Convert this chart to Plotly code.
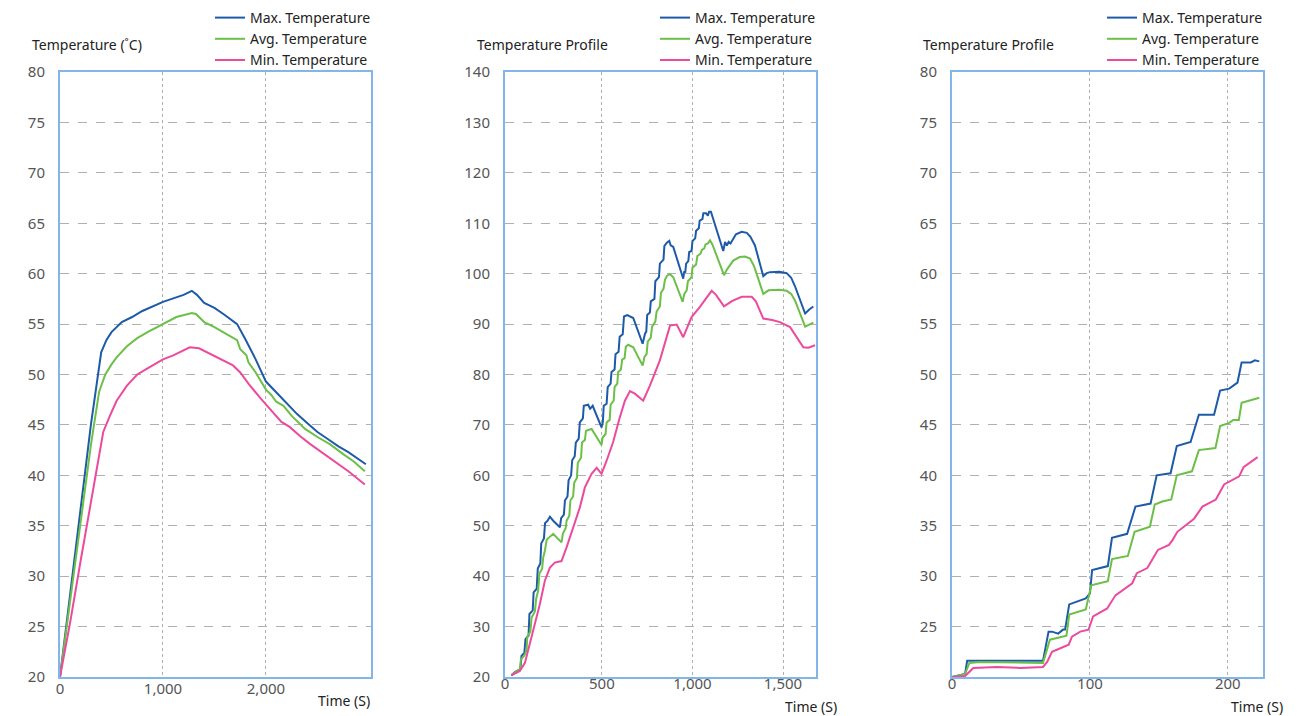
import plotly.graph_objects as go

# ---------------- Panel 1 data ----------------
p1_t_max = [0, 100, 200, 300, 400, 450, 500, 600, 700, 800, 1000, 1200, 1280, 1330, 1400, 1500, 1600, 1720,
            1800, 1900, 2000, 2100, 2200, 2300, 2400, 2500, 2600, 2700, 2800, 2970]
p1_max = [20.0, 28.5, 37.0, 45.0, 52.2, 53.4, 54.2, 55.2, 55.7, 56.3, 57.2, 57.9, 58.3, 57.9, 57.1, 56.6, 55.9, 55.0,
          53.5, 51.5, 49.3, 48.2, 47.2, 46.1, 45.2, 44.3, 43.6, 42.9, 42.3, 41.1]

p1_t_avg = [0, 100, 200, 300, 380, 440, 500, 550, 650, 750, 850, 1000, 1130, 1280, 1320, 1400, 1500, 1600, 1720,
            1750, 1810, 1830, 1900, 2000, 2050, 2100, 2170, 2250, 2380, 2500, 2620, 2750, 2850, 2960]
p1_avg = [20.0, 27.5, 35.5, 43.0, 48.3, 50.0, 51.0, 51.7, 52.8, 53.6, 54.2, 55.0, 55.7, 56.1, 56.0, 55.2, 54.7, 54.1, 53.4,
          52.5, 51.9, 51.2, 50.2, 48.5, 48.0, 47.3, 46.9, 45.9, 44.6, 43.8, 43.1, 42.1, 41.4, 40.4]

p1_t_min = [0, 100, 200, 300, 420, 480, 550, 650, 750, 850, 1000, 1100, 1260, 1350, 1450, 1550, 1680, 1750, 1830,
            1950, 2070, 2150, 2230, 2330, 2430, 2540, 2650, 2800, 2960]
p1_min = [20.0, 25.5, 31.5, 37.5, 44.3, 45.8, 47.4, 48.9, 50.0, 50.6, 51.5, 51.9, 52.7, 52.6, 52.1, 51.6, 50.9, 50.2, 49.1,
          47.6, 46.2, 45.3, 44.8, 43.9, 43.1, 42.3, 41.5, 40.4, 39.1]

# ---------------- Panel 2 data ----------------
p2_t_max = [0, 20, 47, 50, 56, 72, 78, 95, 100, 118, 123, 140, 146, 160, 165, 180, 186, 200, 213, 231, 268,
            275, 290, 296, 310, 316, 330, 336, 350, 356, 372, 378, 395, 400, 424, 435, 449, 498,
            505, 510, 526, 532, 548, 553, 570, 575, 592, 598, 615, 622, 640, 660, 673, 725,
            738, 745, 750, 765, 770, 790, 795, 815, 820, 840, 845, 860, 872, 880, 894, 949,
            955, 960, 965, 977, 982, 995, 1000, 1015, 1020, 1035, 1040, 1055, 1060, 1075, 1085, 1092, 1102,
            1170, 1180, 1190, 1200, 1210, 1240, 1272, 1300, 1320, 1345, 1391, 1410, 1428, 1480, 1520, 1545,
            1566, 1622, 1645, 1667]
p2_max = [20.3, 21.0, 21.5, 21.6, 24.2, 24.8, 27.5, 28.2, 32.5, 33.2, 36.8, 37.5, 41.5, 42.5, 46.5, 47.5, 50.5, 51.0,
          51.8, 51.0, 49.7,
          51.5, 52.2, 55.0, 55.8, 59.0, 60.0, 63.0, 63.8, 66.5, 67.3, 70.5, 71.3, 73.8, 74.0, 73.2, 73.8, 69.5,
          70.5, 73.8, 74.2, 77.5, 78.2, 80.5, 81.0, 84.0, 84.5, 87.5, 88.0, 91.5, 91.8, 91.5, 91.2, 86.1,
          88.1, 88.5, 91.8, 92.3, 94.5, 95.0, 98.5, 99.3, 102.0, 102.8, 105.5, 106.2, 106.5, 105.6, 105.3, 99.0,
          100.5, 100.2, 102.0, 102.5, 104.3, 104.5, 106.5, 107.0, 108.5, 109.0, 110.5, 110.8, 112.0, 112.0, 111.5,
          112.3, 112.3,
          104.5, 106.3, 105.6, 106.3, 106.0, 107.8, 108.3, 108.1, 107.3, 105.6, 99.5, 100.1, 100.3, 100.4, 100.1, 99.2,
          97.5, 92.1, 92.9, 93.5]

p2_t_avg = [0, 38, 47, 53, 70, 84, 88, 105, 112, 130, 137, 148, 155, 170, 176, 185, 195, 203, 231, 277,
            285, 300, 305, 320, 326, 341, 347, 362, 367, 385, 390, 406, 412, 424, 443, 498,
            504, 520, 526, 543, 548, 565, 570, 585, 590, 605, 612, 625, 632, 645, 673, 700, 725,
            735, 747, 753, 770, 777, 795, 802, 820, 826, 840, 848, 860, 876, 894, 946,
            955, 968, 975, 995, 1000, 1020, 1027, 1045, 1052, 1065, 1072, 1085, 1097, 1110, 1174,
            1190, 1225, 1260, 1290, 1318, 1340, 1391, 1420, 1480, 1520, 1545, 1566, 1622, 1645, 1667]
p2_avg = [20.4, 21.2, 21.5, 23.5, 24.2, 25.2, 28.0, 29.0, 31.8, 33.0, 35.5, 37.1, 40.5, 41.5, 43.7, 45.0, 47.2, 47.5,
          48.4, 46.7,
          48.5, 49.5, 51.0, 52.0, 55.0, 55.8, 58.5, 59.5, 62.5, 63.5, 66.5, 67.0, 68.8, 69.0, 69.2, 66.0,
          67.5, 68.2, 70.5, 71.0, 74.0, 74.8, 77.5, 78.2, 80.5, 81.0, 83.0, 83.2, 85.5, 85.9, 85.4, 83.5, 81.8,
          83.5, 84.1, 86.5, 87.3, 89.5, 90.5, 92.5, 93.5, 96.2, 97.0, 98.8, 99.6, 99.9, 99.3, 94.4,
          96.0, 96.7, 98.5, 99.3, 101.2, 101.8, 103.5, 104.0, 104.7, 105.0, 105.8, 106.0, 106.6, 105.8, 99.7,
          100.8, 102.6, 103.3, 103.4, 103.0, 101.5, 96.0, 96.7, 96.8, 96.6, 96.0, 94.7, 89.5, 89.9, 90.3]

p2_t_min = [0, 47, 75, 102, 130, 157, 185, 213, 240, 277, 305, 341, 378, 406, 443, 471, 498, 526, 562, 599, 627,
            655, 682, 728, 765, 820, 876, 913, 949, 995, 1041, 1106, 1130, 1174, 1220, 1272, 1327, 1350, 1391,
            1440, 1483, 1539, 1575, 1612, 1640, 1677]
p2_min = [20.3, 21.2, 22.8, 26.5, 30.5, 34.4, 39.1, 41.7, 42.7, 43.0, 45.7, 49.7, 53.6, 57.6, 60.3, 61.5, 60.3, 62.9,
          66.6, 71.5, 74.8, 76.7, 76.2, 74.8, 77.8, 82.8, 89.7, 89.9, 87.4, 91.4, 93.4, 96.6, 95.8, 93.5, 94.6, 95.4,
          95.4, 94.5, 91.1, 90.8, 90.4, 89.4, 87.5, 85.4, 85.3, 85.8]

# ---------------- Panel 3 data ----------------
p3_t_max = [0, 9.5, 11, 66, 70, 72.5, 77, 80.5, 82, 85, 97, 100, 101.6, 113, 116, 127, 133, 144, 148.4, 158.5,
            163, 173, 179, 190, 194.4, 201, 207, 210, 216.7, 219.6, 222.8]
p3_max = [20.0, 20.3, 21.6, 21.6, 24.5, 24.5, 24.3, 24.7, 24.7, 27.2, 27.8, 28.3, 30.6, 31.0, 33.8, 34.2, 36.9, 37.2,
          40.0, 40.2, 42.9, 43.3, 46.0, 46.0, 48.4, 48.6, 49.2, 51.2, 51.2, 51.4, 51.3]

p3_t_avg = [0, 9.5, 12.6, 20, 66, 71, 83, 85, 97, 101, 113, 116, 127.5, 132.4, 143.5, 147, 152.5, 159, 163, 174,
            179, 191, 194.4, 201, 204, 208, 210, 222.8]
p3_avg = [20.0, 20.3, 21.4, 21.5, 21.4, 23.7, 24.1, 26.2, 26.7, 29.1, 29.5, 31.7, 32.0, 34.4, 34.9, 37.1, 37.4, 37.6,
          40.0, 40.4, 42.5, 42.7, 44.9, 45.2, 45.5, 45.5, 47.2, 47.7]

p3_t_min = [0, 9.5, 15.5, 32.5, 49.5, 66, 69, 72.5, 76, 84.6, 87, 93, 99, 102.3, 112.5, 118.5, 130.7, 134, 141.6,
            145, 149.3, 157.3, 160, 163.4, 175.5, 181.6, 191.3, 197.3, 208.2, 211.4, 221.6]
p3_min = [20.0, 20.1, 20.9, 21.0, 20.9, 21.0, 21.5, 22.5, 22.7, 23.2, 24.0, 24.5, 24.7, 26.0, 26.8, 28.1, 29.3, 30.3,
          30.8, 31.6, 32.6, 33.1, 33.6, 34.4, 35.7, 36.9, 37.6, 39.1, 39.9, 40.8, 41.8]

series_names = ["Max. Temperature", "Avg. Temperature", "Min. Temperature"]
colors = ["#1d5ba8", "#6cbf47", "#ec4a9c"]

# ticks
p1_xticks = [0, 1000, 2000]
p1_xlabels = ["0", "1,000", "2,000"]
p2_xticks = [-35, 500, 1000, 1500]
p2_xlabels = ["0", "500", "1,000", "1,500"]
p3_xticks = [0, 100, 200]
p3_xlabels = ["0", "100", "200"]
p1_yticks = list(range(20, 81, 5))
p2_yticks = list(range(20, 141, 10))
p3_yticks = list(range(25, 81, 5))

panels = [
    dict(data=[(p1_t_max, p1_max), (p1_t_avg, p1_avg), (p1_t_min, p1_min)],
         xr=[0, 3020], yr=[20, 80], xt=p1_xticks, xl=p1_xlabels, yt=p1_yticks, xso=-3,
         px=(60, 371), ytitle="Temperature (˚C)", yt_x=30, xt_x=372, xt_y=700, leg_x=210),
    dict(data=[(p2_t_max, p2_max), (p2_t_avg, p2_avg), (p2_t_min, p2_min)],
         xr=[-35, 1682], yr=[20, 140], xt=p2_xticks, xl=p2_xlabels, yt=p2_yticks, xso=-8,
         px=(505, 816), ytitle="Temperature Profile", yt_x=475, xt_x=839, xt_y=706, leg_x=655),
    dict(data=[(p3_t_max, p3_max), (p3_t_avg, p3_avg), (p3_t_min, p3_min)],
         xr=[0, 225.5], yr=[20, 80], xt=p3_xticks, xl=p3_xlabels, yt=p3_yticks, xso=-8,
         px=(952, 1263), ytitle="Temperature Profile", yt_x=921, xt_x=1285, xt_y=706, leg_x=1102),
]

W, H = 1313, 716
OFF = 8  # page body margin: page pixel = OFF + figure pixel
FONT = "Noto Sans"


def fx(px):
    return (px - OFF) / W


def fy(py):
    return 1 - (py - OFF) / H


fig = go.Figure()
layout = dict(
    template="none",
    width=W, height=H, margin=dict(l=0, r=0, t=0, b=0, autoexpand=False),
    paper_bgcolor="white", plot_bgcolor="white",
    font=dict(family=FONT, size=14, color="#555555"),
    showlegend=True,
)
annotations = []
y_dom = [fy(677), fy(72)]
border = "#82b6e8"
for i, p in enumerate(panels, start=1):
    sfx = "" if i == 1 else str(i)
    leg = "legend" if i == 1 else f"legend{i}"
    for (t, v), name, c in zip(p["data"], series_names, colors):
        fig.add_trace(go.Scatter(x=t, y=v, mode="lines", name=name,
                                 line=dict(color=c, width=2),
                                 xaxis="x" + sfx, yaxis="y" + sfx, legend=leg))
    layout["xaxis" + sfx] = dict(
        domain=[fx(p["px"][0]), fx(p["px"][1])], anchor="y" + sfx, range=p["xr"],
        tickvals=p["xt"], ticktext=p["xl"], showgrid=True, gridcolor="#b0b0b0", griddash="dot",
        gridwidth=1, zeroline=False, showline=True, mirror=True, linecolor=border, linewidth=2,
        ticks="", ticklabelstandoff=p["xso"], automargin=False,
        tickfont=dict(size=15, color="#555555"), fixedrange=True)
    layout["yaxis" + sfx] = dict(
        domain=y_dom, anchor="x" + sfx, range=p["yr"], tickvals=p["yt"],
        showgrid=True, gridcolor="#b0b0b0", griddash="dash", gridwidth=1, zeroline=False,
        showline=True, mirror=True, linecolor=border, linewidth=2, automargin=False,
        ticks="", ticklabelstandoff=10, tickfont=dict(size=15, color="#555555"), fixedrange=True)
    layout[leg] = dict(x=fx(p["leg_x"]), xanchor="left", y=fy(2), yanchor="top",
                       bgcolor="rgba(0,0,0,0)", font=dict(size=14, color="#222222", family=FONT),
                       itemclick=False, tracegroupgap=0)
    annotations.append(dict(text=p["ytitle"], x=fx(p["yt_x"]), y=fy(44), xref="paper", yref="paper",
                            xanchor="left", yanchor="middle", showarrow=False,
                            font=dict(size=14, color="#222222", family=FONT)))
    annotations.append(dict(text="Time (S)", x=fx(p["xt_x"]), y=fy(p["xt_y"]), xref="paper", yref="paper",
                            xanchor="right", yanchor="middle", showarrow=False,
                            font=dict(size=14, color="#222222", family=FONT)))
layout["annotations"] = annotations
fig.update_layout(**layout)
fig.write_html("out.html")
